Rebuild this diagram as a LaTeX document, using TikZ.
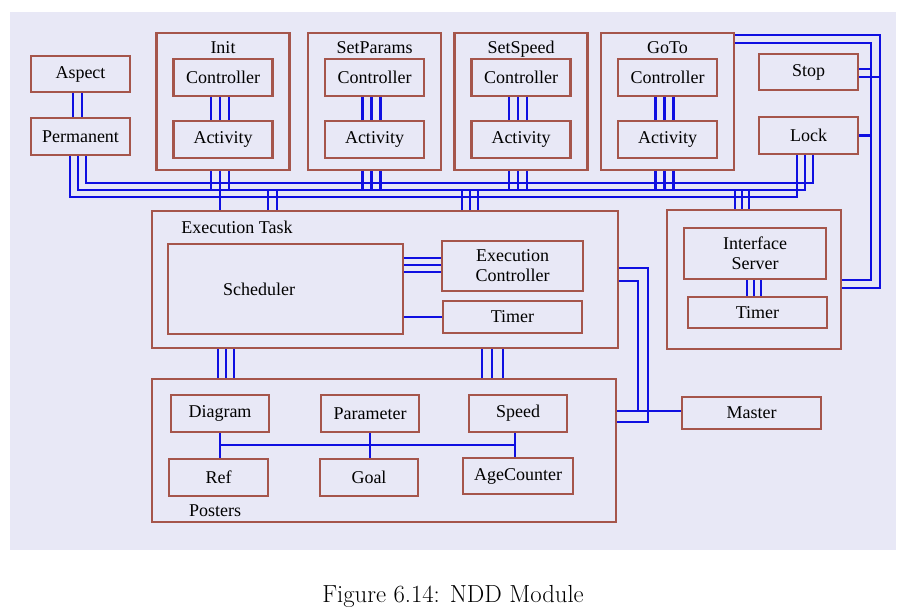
\documentclass[tikz,border=0pt]{standalone}
\usepackage{fontspec}
\newfontfamily\dfont{Liberation Serif}
\definecolor{bgpanel}{RGB}{232,232,246}
\definecolor{boxred}{RGB}{165,85,75}
\definecolor{busblue}{RGB}{15,15,225}

\begin{document}
\begin{tikzpicture}[x=1pt, y=-1pt,
  font=\dfont\fontsize{18}{20}\selectfont,
  blk/.style={draw=boxred, line width=2.8pt, inner sep=0pt, align=center},
  bus/.style={busblue, line width=2.4pt}]

\useasboundingbox (0,0) rectangle (904,614);
\fill[bgpanel] (10,12) rectangle (896,550); % panel

% bus levels and rails
\coordinate (busT) at (0,183);
\coordinate (busM) at (0,190);
\coordinate (busB) at (0,197);
\coordinate (railI) at (871,280);
\coordinate (railO) at (880,288);
\coordinate (mA) at (648,0);
\coordinate (mB) at (638,0);
\coordinate (pbus) at (0,445);

% Aspect / Permanent
\node[blk, minimum width=99pt, minimum height=36pt] (aspect) at (80.5,74) {Aspect};
\node[blk, minimum width=99pt, minimum height=37pt] (perm) at (80.5,136.5) {Permanent};
\foreach \d in {-7.5,1.5}
  \draw[bus] ([xshift=\d pt]aspect.south) -- ([xshift=\d pt]perm.north);

% the four tasks
\foreach \n/\lbl/\x in {init/Init/223, spar/SetParams/374.5, sspd/SetSpeed/521, goto/GoTo/667.5} {
  \node[blk, minimum width=133pt, minimum height=137pt] (\n) at (\x,101.5) {};
  \node[anchor=base] (\n-t) at (\x,53) {\lbl};
  \node[blk, minimum width=99pt, minimum height=37pt] (\n-c) at (\x,77.5) {Controller};
  \node[blk, minimum width=99pt, minimum height=37pt] (\n-a) at (\x,139.5) {Activity};
  \foreach \d in {-12,-3,6}
    \draw[bus] ([xshift=\d pt]\n-c.south) -- ([xshift=\d pt]\n-a.north);
}

% Stop / Lock
\node[blk, minimum width=99pt, minimum height=36pt] (stop) at (808.5,72) {Stop};
\node[blk, minimum width=99pt, minimum height=37pt] (lock) at (808.5,135.5) {Lock};

% Execution Task
\node[blk, minimum width=466pt, minimum height=137pt] (exec) at (385,279.5) {};
\node[anchor=base] (exec-t) at (237,233) {Execution Task};
\node[blk, minimum width=235pt, minimum height=90pt] (sched) at (285.5,289) {};
\node[anchor=base] (sched-t) at (259,295) {Scheduler};
\node[blk, minimum width=141pt, minimum height=50pt] (ectrl) at (512.5,266) {Execution\\Controller};
\node[blk, minimum width=139pt, minimum height=32pt] (etimer) at (512.5,317) {Timer};
\foreach \d in {8,1,-6}
  \draw[bus] ([yshift=\d pt]sched.east |- ectrl.west) -- ([yshift=\d pt]ectrl.west);
\draw[bus] (sched.east |- etimer.west) -- (etimer.west);

% Interface block
\node[blk, minimum width=174pt, minimum height=139pt] (iface) at (754,279.5) {};
\node[blk, minimum width=142pt, minimum height=51pt] (isrv) at (755,253.5) {Interface\\Server};
\node[blk, minimum width=139pt, minimum height=31pt] (itimer) at (757.5,312.5) {Timer};
\foreach \d in {-8,-1,6}
  \draw[bus] ([xshift=\d pt]isrv.south) -- ([xshift=\d pt]isrv.south |- itimer.north);

% Master
\node[blk, minimum width=139pt, minimum height=32pt] (master) at (751.5,413) {Master};

% Posters
\node[blk, minimum width=464pt, minimum height=143pt] (post) at (384,450.5) {};
\node[anchor=base] (post-t) at (215,516) {Posters};
\node[blk, minimum width=98pt, minimum height=37pt] (diag) at (220,413.5) {Diagram};
\node[blk, minimum width=98pt, minimum height=37pt] (param) at (370,413.5) {Parameter};
\node[blk, minimum width=98pt, minimum height=37pt] (speed) at (518,413.5) {Speed};
\node[blk, minimum width=99pt, minimum height=37pt] (ref) at (218.5,477.5) {Ref};
\node[blk, minimum width=98pt, minimum height=37pt] (goal) at (369,477.5) {Goal};
\node[blk, minimum width=110pt, minimum height=36pt] (agec) at (518,476) {AgeCounter};
\draw[bus] (diag.south |- pbus) -- ([xshift=-3pt]speed.south |- pbus);
\draw[bus] (diag.south) -- (diag.south |- ref.north);
\draw[bus] (param.south) -- (param.south |- goal.north);
\draw[bus] ([xshift=-3pt]speed.south) -- ([xshift=-3pt]speed.south |- agec.north);

% top bus: Permanent to Lock
\draw[bus] ([xshift=-10.5pt]perm.south) |- ([xshift=-11.5pt]lock.south |- busB) -- ([xshift=-11.5pt]lock.south);
\draw[bus] ([xshift=-2.5pt]perm.south) |- ([xshift=-3.5pt]lock.south |- busM) -- ([xshift=-3.5pt]lock.south);
\draw[bus] ([xshift=5.5pt]perm.south) |- ([xshift=4.5pt]lock.south |- busT) -- ([xshift=4.5pt]lock.south);

% task drops onto the bus
\foreach \d in {-12,6}
  \draw[bus] ([xshift=\d pt]init.south) -- ([xshift=\d pt]init.south |- busM);
\draw[bus] ([xshift=-3pt]init.south) -- ([xshift=-3pt]init.south |- exec.north);
\foreach \n in {spar,sspd,goto}
  \foreach \d in {-12,-3,6}
    \draw[bus] ([xshift=\d pt]\n.south) -- ([xshift=\d pt]\n.south |- busM);
\foreach \d in {-117,-108,77,85,93}
  \draw[bus] ([xshift=\d pt]exec.north |- busM) -- ([xshift=\d pt]exec.north);
\foreach \d in {-19,-12,-5}
  \draw[bus] ([xshift=\d pt]iface.north |- busM) -- ([xshift=\d pt]iface.north);

% Execution Task down to Posters
\foreach \d in {-167,-159,-151,97,107,118}
  \draw[bus] ([xshift=\d pt]exec.south) -- ([xshift=\d pt]exec.south |- post.north);

% right rails
\draw[bus] ([yshift=66.5pt]goto.east) -| (railO) -- (railO -| iface.east);
\draw[bus] ([yshift=58.5pt]goto.east) -| (railI) -- (railI -| iface.east);
\draw[bus] ([yshift=3pt]stop.east) -- ([yshift=3pt]stop.east -| railI);
\draw[bus] ([yshift=-5pt]stop.east) -- ([yshift=-5pt]stop.east -| railO);
\draw[bus] (lock.east) -- (lock.east -| railI);

% Execution Task / Posters / Master
\draw[bus] ([yshift=11.5pt]exec.east) -| ([yshift=28.5pt]post.east -| mA) -- ([yshift=28.5pt]post.east);
\draw[bus] ([yshift=-1.5pt]exec.east) -| ([yshift=39.5pt]post.east -| mB);
\draw[bus] ([yshift=39.5pt]post.east) -- ([yshift=39.5pt]post.east -| master.west);

% caption
\node[anchor=base, font=\rmfamily\fontsize{24.7}{30}\selectfont] (caption) at (453,602) {Figure 6.14: NDD Module};
\end{tikzpicture}
\end{document}
